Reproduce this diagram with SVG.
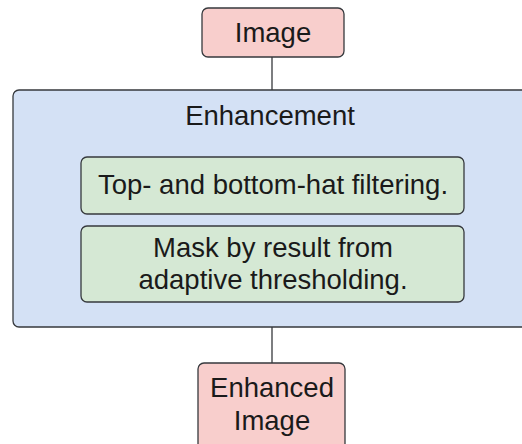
<svg xmlns="http://www.w3.org/2000/svg" width="522" height="444" viewBox="0 0 522 444">
  <style>
    .box { stroke: #36393d; stroke-width: 1.3; }
    .io { fill: #f8cecc; }
    .group { fill: #d4e1f5; }
    .step { fill: #d5e8d4; }
    .label { font-family: "Liberation Sans", Arial, sans-serif; font-size: 27.5px; fill: #1a1a1a; text-anchor: middle; }
    .edge { stroke: #36393d; stroke-width: 1.3; fill: none; }
  </style>
  <rect width="522" height="444" fill="#ffffff"/>
  <g id="connectors">
    <line class="edge" x1="272" y1="57" x2="272" y2="90"/>
    <line class="edge" x1="272" y1="327" x2="272" y2="363"/>
  </g>
  <g id="image">
    <rect class="box io" x="202" y="8" width="142" height="49" rx="6"/>
    <text class="label" x="273" y="42">Image</text>
  </g>
  <g id="enhancement">
    <rect class="box group" x="13" y="90" width="520" height="237" rx="6"/>
    <text class="label" x="270" y="125">Enhancement</text>
  </g>
  <g id="tophat">
    <rect class="box step" x="81" y="157" width="383" height="57" rx="6"/>
    <text class="label" x="273" y="194">Top- and bottom-hat filtering.</text>
  </g>
  <g id="mask">
    <rect class="box step" x="81" y="226" width="383" height="76" rx="6"/>
    <text class="label" x="273" y="257">Mask by result from</text>
    <text class="label" x="273" y="289">adaptive thresholding.</text>
  </g>
  <g id="enhanced-image">
    <rect class="box io" x="198" y="363" width="147" height="100" rx="6"/>
    <text class="label" x="272" y="397">Enhanced</text>
    <text class="label" x="272" y="430">Image</text>
  </g>
</svg>
